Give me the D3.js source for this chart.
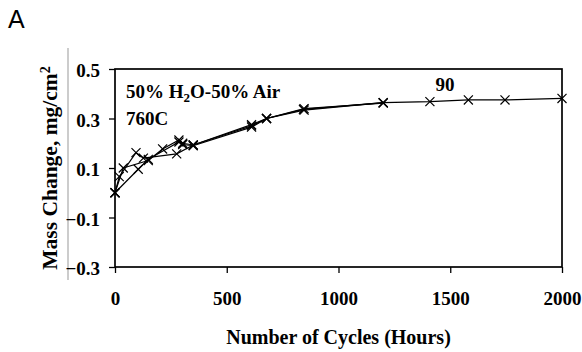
<!DOCTYPE html>
<html>
<head>
<meta charset="utf-8">
<script src="https://cdn.jsdelivr.net/npm/d3@7"></script>
<style>
  body { margin: 0; background: #fff; }
  text { font-family: "Liberation Serif", "Times New Roman", serif; font-weight: bold; fill: #000; }
</style>
</head>
<body>
<div id="chart"></div>
<script>
// hours vs mass change (mg/cm2), three specimens at 760C
var hoursA = [0, 19, 94, 127, 276, 350, 611, 678, 843, 1200, 1409, 1581, 1745, 2000];
var massA = [0, 0.065, 0.162, 0.14, 0.157, 0.193, 0.27, 0.30, 0.337, 0.364, 0.368, 0.375, 0.375, 0.381];
var hoursB = [0, 37, 149, 213, 286, 303, 350, 611, 678, 846, 1200];
var massB = [0, 0.10, 0.13, 0.177, 0.213, 0.20, 0.193, 0.275, 0.30, 0.334, 0.364];
var hoursC = [0, 104, 149, 286, 303, 350, 611, 678, 846, 1200];
var massC = [0, 0.095, 0.135, 0.205, 0.195, 0.19, 0.265, 0.30, 0.34, 0.362];

var xTicks = [0, 500, 1000, 1500, 2000];
var yTicks = [-0.3, -0.1, 0.1, 0.3, 0.5];

var width = 582, height = 352;
var svg = d3.select('#chart').append('svg')
    .attr('width', width)
    .attr('height', height);

var x = d3.scaleLinear().domain([0, 2000]).range([115, 562]);
var y = d3.scaleLinear().domain([-0.3, 0.5]).range([267, 69]);

// panel letter
svg.append('text')
    .attr('x', 8).attr('y', 28)
    .style('font-family', '"Liberation Sans", Arial, sans-serif')
    .style('font-weight', 'normal')
    .style('font-size', '25px')
    .text('A');

// thin gray divider left of the axis labels
svg.append('line')
    .attr('x1', 68).attr('x2', 68)
    .attr('y1', 48).attr('y2', 280)
    .style('stroke', '#999')
    .style('stroke-width', 1);

// axes
var xAxis = d3.axisBottom(x).tickValues(xTicks).tickSize(6).tickPadding(19)
    .tickFormat(d3.format('d'));
var yAxis = d3.axisLeft(y).tickValues(yTicks).tickSize(6).tickPadding(9)
    .tickFormat(function (d) { return d3.format('.1f')(d); });

var gx = svg.append('g').attr('transform', 'translate(0,267)').call(xAxis);
var gy = svg.append('g').attr('transform', 'translate(115,0)').call(yAxis);
[gx, gy].forEach(function (g) {
    g.select('.domain').remove();
    g.selectAll('line').style('stroke', '#000').style('stroke-width', 1.3);
    g.selectAll('text')
        .style('font-family', '"Liberation Serif", "Times New Roman", serif')
        .style('font-weight', 'bold')
        .style('font-size', '19px');
});
gy.selectAll('text').attr('dy', '0.42em');

// plot box
svg.append('rect')
    .attr('x', x(0)).attr('y', y(0.5))
    .attr('width', x(2000) - x(0))
    .attr('height', y(-0.3) - y(0.5))
    .style('fill', 'none')
    .style('stroke', '#000')
    .style('stroke-width', 1.7);

// series
var series = [
    d3.zip(hoursA, massA),
    d3.zip(hoursB, massB),
    d3.zip(hoursC, massC)
];
var line = d3.line()
    .x(function (d) { return x(d[0]); })
    .y(function (d) { return y(d[1]); });

svg.selectAll('path.series')
    .data(series)
    .enter()
    .append('path')
    .attr('class', 'series')
    .attr('d', line)
    .style('fill', 'none')
    .style('stroke', '#000')
    .style('stroke-width', 1.2);

var cross = d3.symbol().type(d3.symbolX).size(55);
series.forEach(function (s) {
    svg.selectAll(null)
        .data(s)
        .enter()
        .append('path')
        .attr('d', cross)
        .attr('transform', function (d) { return 'translate(' + x(d[0]) + ',' + y(d[1]) + ')'; })
        .style('fill', 'none')
        .style('stroke', '#000')
        .style('stroke-width', 1.2);
});

// annotations
var t1 = svg.append('text').attr('x', 126).attr('y', 98).style('font-size', '19px');
t1.append('tspan').text('50% H');
t1.append('tspan').attr('dy', 4).style('font-size', '13px').text('2');
t1.append('tspan').attr('dy', -4).text('O-50% Air');

svg.append('text').attr('x', 126).attr('y', 125).style('font-size', '19px').text('760C');

svg.append('text').attr('x', 445).attr('y', 91).attr('text-anchor', 'middle')
    .style('font-size', '19px').text('90');

// axis titles
svg.append('text')
    .attr('x', x(1000)).attr('y', 344)
    .attr('text-anchor', 'middle')
    .style('font-size', '20px')
    .text('Number of Cycles (Hours)');

var yt = svg.append('text')
    .attr('transform', 'translate(57,' + ((y(0.5) + y(-0.3)) / 2) + ') rotate(-90)')
    .attr('text-anchor', 'middle')
    .style('font-size', '21.5px');
yt.append('tspan').text('Mass Change, mg/cm');
yt.append('tspan').attr('dy', -7).style('font-size', '14px').text('2');
</script>
</body>
</html>
